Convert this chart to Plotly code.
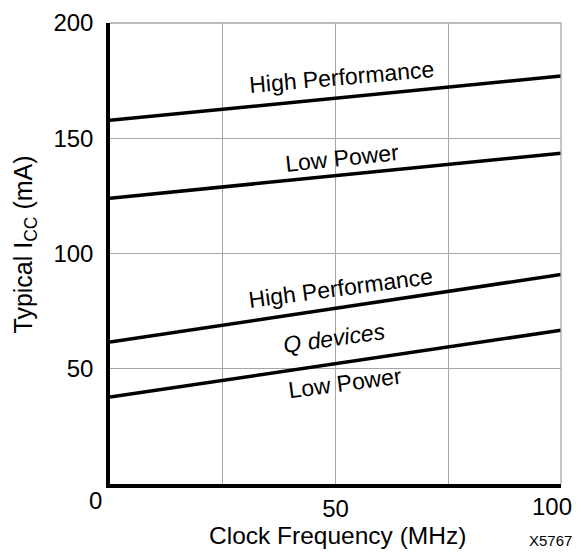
import plotly.graph_objects as go

freq = [0, 100]
hp_std = [157.8, 177.0]
lp_std = [124.0, 143.5]
hp_q = [61.6, 90.9]
lp_q = [37.7, 66.7]

x_ticks = [50]
x_ticktext = ["50"]
y_ticks = [50, 100, 150, 200]
y_ticktext = ["50", "100", "150", "200"]

FONT = "Liberation Sans, Arial, sans-serif"

fig = go.Figure()
for ys in [hp_std, lp_std, hp_q, lp_q]:
    fig.add_trace(go.Scatter(x=freq, y=ys, mode="lines",
                             line=dict(color="black", width=3.5),
                             showlegend=False, hoverinfo="skip"))

grid = "#a6a6a6"
fig.update_xaxes(range=[0, 100], tickvals=x_ticks, ticktext=x_ticktext,
                 showgrid=True, gridcolor=grid, gridwidth=1.3,
                 minor=dict(dtick=25, showgrid=True, gridcolor=grid, gridwidth=1.3, ticks=""),
                 showline=True, linecolor="black", linewidth=3.5,
                 zeroline=False, ticks="", ticklabelstandoff=0,
                 automargin=False,
                 tickfont=dict(size=24, color="black", family=FONT))
fig.update_yaxes(range=[0, 200], tickvals=y_ticks, ticktext=y_ticktext,
                 showgrid=True, gridcolor=grid, gridwidth=1.3,
                 showline=True, linecolor="black", linewidth=3.5,
                 zeroline=False, ticks="", ticklabelstandoff=8,
                 ticklabeloverflow="allow", automargin=False,
                 tickfont=dict(size=24, color="black", family=FONT))

# right and top border in grid colour
fig.add_shape(type="line", xref="paper", yref="paper", x0=1, x1=1, y0=0, y1=1,
              line=dict(color=grid, width=1.3))
fig.add_shape(type="line", xref="paper", yref="paper", x0=0, x1=1, y0=1, y1=1,
              line=dict(color=grid, width=1.3))

labels = [
    ("High Performance", 51.3, 176.6, -5),
    ("Low Power", 51.5, 141.4, -6),
    ("High Performance", 51.0, 85.0, -7.5),
    ("<i>Q devices</i>", 49.7, 63.3, -8),
    ("Low Power", 52.1, 43.8, -7.5),
]
for txt, x, y, ang in labels:
    fig.add_annotation(x=x, y=y, xref="x", yref="y", text=txt, showarrow=False,
                       xanchor="center", yanchor="middle",
                       textangle=ang, font=dict(size=23, color="black", family=FONT))

def paper_text(txt, x, y, size, angle=0, xa="center", ya="middle"):
    fig.add_annotation(x=x, y=y, xref="paper", yref="paper", text=txt,
                       showarrow=False, xanchor=xa, yanchor=ya,
                       textangle=angle, borderpad=0,
                       font=dict(size=size, color="black", family=FONT))

paper_text("0", -0.033, -0.035, 24)
paper_text("100", 1.0266, -0.048, 24, xa="right")
paper_text("Clock Frequency (MHz)", 0.505, -0.143, 24.5, ya="bottom")
paper_text("Typical I<sub>CC</sub> (mA)", -0.188, 0.52, 25, -90)
paper_text("X5767", 1.0266, -0.143, 15, xa="right", ya="bottom")

fig.update_layout(width=565, height=541, autosize=False,
                  margin=dict(l=102, r=12, t=15, b=65),
                  plot_bgcolor="white", paper_bgcolor="white",
                  font=dict(family=FONT, color="black"))

fig.write_html("out.html")
